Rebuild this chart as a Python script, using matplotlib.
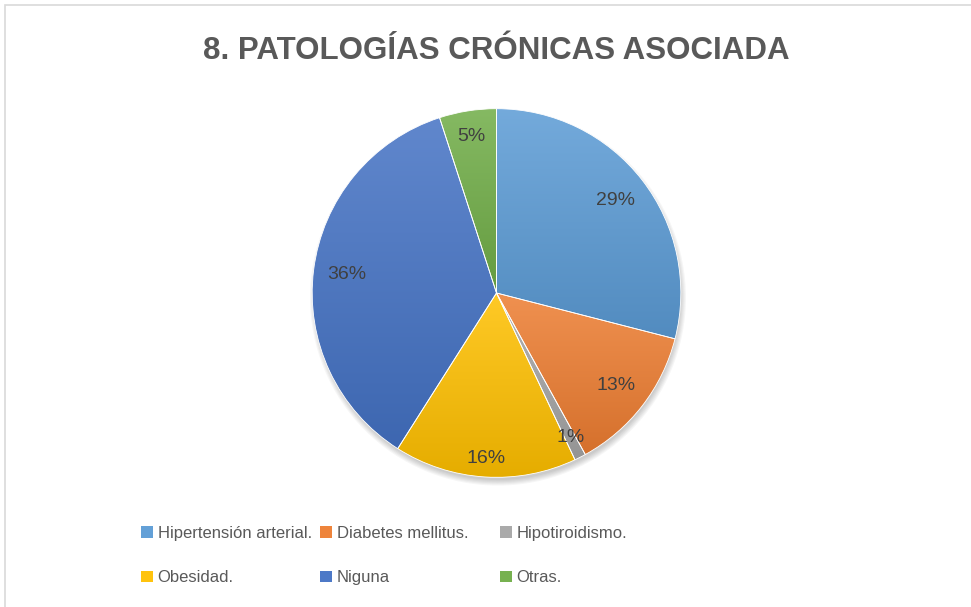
import numpy as np
import matplotlib.pyplot as plt
from matplotlib.colors import to_rgb
from matplotlib.patches import Rectangle, Circle

categorias = ["Hipertensión arterial.", "Diabetes mellitus.", "Hipotiroidismo.",
              "Obesidad.", "Niguna", "Otras."]
porcentajes = [29, 13, 1, 16, 36, 5]
colores = ["#5B9BD5", "#ED7D31", "#A5A5A5", "#FFC000", "#4472C4", "#70AD47"]
titulo = "8. PATOLOGÍAS CRÓNICAS ASOCIADA"

texto_gris = "#595959"
plt.rcParams['font.family'] = ['Liberation Sans', 'DejaVu Sans']


def tono(c, f):
    r = np.array(to_rgb(c))
    if f >= 1:
        return r + (1 - r) * (f - 1)
    return r * f


fig = plt.figure(figsize=(9.71, 6.07), dpi=100)
fig.patches.append(Rectangle((5 / 971, -0.1), 1.1, 1.1 - 5 / 607, transform=fig.transFigure,
                             fill=False, edgecolor="#D9D9D9", linewidth=1.2))

fig.text(0.511, 1 - 51 / 607, titulo, ha="center", va="center", fontsize=22.5,
         fontweight="bold", color=texto_gris)

ax = fig.add_axes([(496.5 - 188) / 971, (607 - 481) / 607, 376 / 971, 376 / 607])
ax.set_aspect("equal")
ax.axis("off")

# sombra suave bajo la torta
for k in range(6):
    ax.add_patch(Circle((0.008, -0.025), 0.99 + 0.006 * k, color="black",
                        alpha=0.035, zorder=0, linewidth=0, clip_on=False))

wedges, textos, autotextos = ax.pie(
    porcentajes, colors=colores, startangle=90, counterclock=False,
    autopct="%1.0f%%", pctdistance=0.82, radius=1.0,
    wedgeprops=dict(linewidth=0.6, edgecolor="white"),
    textprops=dict(fontsize=14, color="#404040"))

for w, c in zip(wedges, colores):
    ext = w.get_path().get_extents()
    grad = np.linspace(0, 1, 256)[:, None]
    top = tono(c, 1.15)
    bot = tono(c, 0.9)
    img = top[None, None, :] * (1 - grad[..., None]) + bot[None, None, :] * grad[..., None]
    img = np.repeat(img, 2, axis=1)
    im = ax.imshow(img, extent=[ext.x0, ext.x1, ext.y0, ext.y1], origin="upper",
                   zorder=1, aspect="auto")
    im.set_clip_path(w)
    w.set_facecolor("none")
    w.set_zorder(2)

# distancias de las etiquetas (ajuste tipo "mejor ajuste")
distancias = [0.82, 0.82, 0.88, 0.9, 0.82, 0.86]
for t, w, d in zip(autotextos, wedges, distancias):
    ang = np.deg2rad((w.theta1 + w.theta2) / 2)
    t.set_position((d * np.cos(ang), d * np.sin(ang)))
    t.set_zorder(3)

ax.set_xlim(-1.02, 1.02)
ax.set_ylim(-1.02, 1.02)

cajas = [Rectangle((0, 0), 1, 1, facecolor=tono(c, 1.05), edgecolor="none") for c in colores]
columnas_x = [141, 320, 500]
for j, xc in enumerate(columnas_x):
    leg = fig.legend([cajas[j], cajas[j + 3]], [categorias[j], categorias[j + 3]],
                     loc="upper left", bbox_to_anchor=(xc / 971, 1 - 526 / 607),
                     frameon=False, fontsize=12, labelcolor=texto_gris, borderpad=0,
                     handlelength=0.7, handleheight=0.7, handletextpad=0.3,
                     labelspacing=1.75, borderaxespad=0)

fig.savefig("out.png", dpi=100)
